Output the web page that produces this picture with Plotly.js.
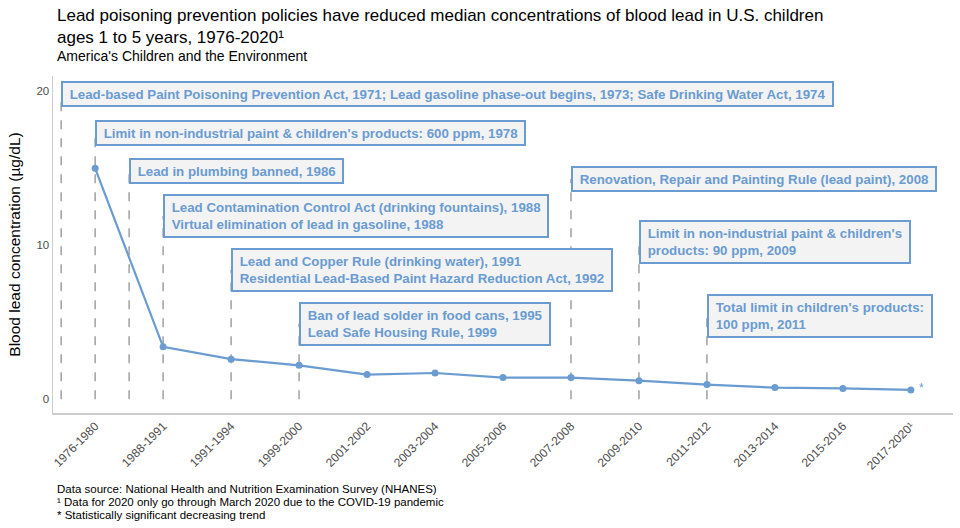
<!DOCTYPE html>
<html>
<head>
<meta charset="utf-8">
<script src="https://cdn.plot.ly/plotly-3.0.1.min.js"></script>
<style>html,body{margin:0;padding:0;background:#fff;}#chart{width:960px;height:528px;}</style>
</head>
<body>
<div id="chart"></div>
<script>
// Survey periods (x-axis categories)
const periods = ["1976-1980","1988-1991","1991-1994","1999-2000","2001-2002","2003-2004","2005-2006","2007-2008","2009-2010","2011-2012","2013-2014","2015-2016","2017-2020¹"];
// Median blood lead concentration (µg/dL)
const medianLead = [15.0, 3.4, 2.6, 2.2, 1.6, 1.7, 1.4, 1.4, 1.2, 0.95, 0.75, 0.7, 0.6];

// Policy labels: position on the period index scale, label height (box centre), text
const policyPos = [-0.5, 0, 0.5, 1, 2, 3, 7, 8, 9];
const policyY = [19.8, 17.3, 14.8, 11.9, 8.4, 4.9, 14.3, 10.2, 5.4];
const policyText = [
  "Lead-based Paint Poisoning Prevention Act, 1971; Lead gasoline phase-out begins, 1973; Safe Drinking Water Act, 1974",
  "Limit in non-industrial paint & children's products: 600 ppm, 1978",
  "Lead in plumbing banned, 1986",
  "Lead Contamination Control Act (drinking fountains), 1988<br>Virtual elimination of lead in gasoline, 1988",
  "Lead and Copper Rule (drinking water), 1991<br>Residential Lead-Based Paint Hazard Reduction Act, 1992",
  "Ban of lead solder in food cans, 1995<br>Lead Safe Housing Rule, 1999",
  "Renovation, Repair and Painting Rule (lead paint), 2008",
  "Limit in non-industrial paint & children's<br>products: 90 ppm, 2009",
  "Total limit in children's products:<br>100 ppm, 2011"
];

const titleText = "Lead poisoning prevention policies have reduced median concentrations of blood lead in U.S. children<br>ages 1 to 5 years, 1976-2020¹";
const subtitleText = "America's Children and the Environment";
const notes = [
  "Data source: National Health and Nutrition Examination Survey (NHANES)",
  "¹ Data for 2020 only go through March 2020 due to the COVID-19 pandemic",
  "* Statistically significant decreasing trend"
];

const blue = "#6a9bd1";
const FONT = "Liberation Sans, Arial, sans-serif";
const idx = periods.map((p, i) => i);

const shapes = policyPos.map((p, i) => ({
  type: "line", xref: "x", yref: "y",
  x0: p, x1: p, y0: 0, y1: policyY[i],
  line: {color: "#a0a0a0", width: 1.5, dash: "dash"},
  layer: "below"
}));

const annotations = policyPos.map((p, i) => {
  const lines = policyText[i].split("<br>").length;
  return {
    xref: "x", yref: "y", x: p, y: policyY[i],
    xanchor: "left", yanchor: "middle", align: "left", valign: "middle",
    text: "<b>" + policyText[i].split("<br>").map(s => "\u00a0" + s + "\u00a0").join("<br>") + "</b>",
    showarrow: false,
    height: lines === 1 ? 16 : 34,
    font: {family: FONT, size: 13.3, color: blue},
    bgcolor: "#f3f3f3", bordercolor: blue, borderwidth: 2, borderpad: 3
  };
});

annotations.push({
  xref: "x", yref: "y", x: periods.length - 1, y: medianLead[medianLead.length - 1],
  xanchor: "left", yanchor: "middle", xshift: 6, yshift: 2,
  text: "*", showarrow: false,
  font: {family: FONT, size: 12, color: blue}
});

// Title + subtitle
annotations.push({
  xref: "paper", yref: "paper", x: 0, y: 1, xshift: 2, yshift: 72,
  xanchor: "left", yanchor: "top", align: "left",
  text: titleText, showarrow: false,
  font: {family: FONT, size: 17, color: "#000"}
});
annotations.push({
  xref: "paper", yref: "paper", x: 0, y: 1, xshift: 2, yshift: 30,
  xanchor: "left", yanchor: "top", align: "left",
  text: subtitleText, showarrow: false,
  font: {family: FONT, size: 14, color: "#000"}
});
// Footnotes
notes.forEach((n, i) => annotations.push({
  xref: "paper", yref: "paper", x: 0, y: 0, xshift: 2, yshift: -68 - i * 13,
  xanchor: "left", yanchor: "top", align: "left",
  text: n, showarrow: false,
  font: {family: FONT, size: 11.5, color: "#000"}
}));

const trace = {
  x: idx, y: medianLead, type: "scatter", mode: "lines+markers",
  line: {color: blue, width: 2.2},
  marker: {color: blue, size: 7},
  hoverinfo: "skip", showlegend: false
};

const layout = {
  width: 960, height: 528,
  margin: {l: 53, r: 7, t: 76, b: 115},
  paper_bgcolor: "#fff", plot_bgcolor: "#fff",
  font: {family: FONT},
  xaxis: {
    range: [-0.62, 12.62], tickvals: idx, ticktext: periods, tickangle: -45,
    showgrid: false, zeroline: false, showline: true, linecolor: "#cccccc", linewidth: 1.5,
    ticks: "", tickfont: {size: 12, color: "#4d4d4d"}
  },
  yaxis: {
    range: [-0.9, 21], tickvals: [0, 10, 20],
    showgrid: false, zeroline: false, showline: true, linecolor: "#cccccc", linewidth: 1.5,
    ticks: "", ticklen: 0, tickfont: {size: 11.5, color: "#4d4d4d"},
    title: {text: "Blood lead concentration (µg/dL)", font: {size: 15.5, color: "#000"}, standoff: 12}
  },
  shapes: shapes,
  annotations: annotations
};

Plotly.newPlot("chart", [trace], layout, {staticPlot: true, displayModeBar: false});
</script>
</body>
</html>
